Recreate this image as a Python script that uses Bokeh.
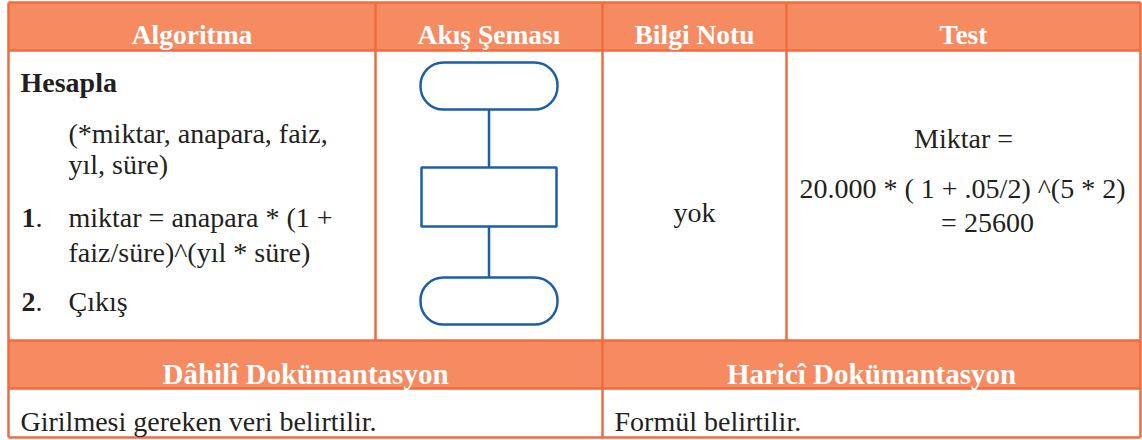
from bokeh.plotting import figure
from bokeh.models import Range1d
from bokeh.core.properties import value
from bokeh.embed import file_html
from bokeh.resources import INLINE

# ---- content ----
headers = ["Algoritma", "Akış Şeması", "Bilgi Notu", "Test"]
doc_headers = ["Dâhilî Dokümantasyon", "Haricî Dokümantasyon"]
doc_texts = ["Girilmesi gereken veri belirtilir.", "Formül belirtilir."]
algo_title = "Hesapla"
algo_params = ["(*miktar, anapara, faiz,", "yıl, süre)"]
step_numbers = ["1", "2"]
step1_lines = ["miktar = anapara * (1 +", "faiz/süre)^(yıl * süre)"]
step2_lines = ["Çıkış"]
info_note = "yok"
test_lines = ["Miktar =", "20.000 * ( 1 + .05/2) ^(5 * 2)", "= 25600"]

# ---- layout (pixel frame of the page) ----
col_edges = [8, 375, 602, 786, 1140]
y_top, y_head, y_body, y_doc, y_bot = 2, 50, 340, 388, 437
doc_split = 602

BORDER = "#F26B3F"
FILL = "#F68B62"
BLUE = "#1B5FAA"
INK = "#231F20"
FONT = value("Liberation Serif")
BODY_SIZE = "28px"

p = figure(width=1142, height=440, x_range=Range1d(0, 1142), y_range=Range1d(440, 0),
           output_backend="svg", toolbar_location=None, min_border=0)
p.axis.visible = False
p.grid.visible = False
p.outline_line_color = None
p.background_fill_color = "white"
p.border_fill_color = "white"

# header bands
p.quad(left=[col_edges[0]] * 2, right=[col_edges[-1]] * 2,
       top=[y_top, y_body], bottom=[y_head, y_doc],
       fill_color=FILL, line_color=None)

# borders
hx0 = [col_edges[0]] * 5
hx1 = [col_edges[-1]] * 5
hy = [y_top, y_head, y_body, y_doc, y_bot]
p.segment(x0=hx0, x1=hx1, y0=hy, y1=hy, line_color=BORDER, line_width=2.5)
vx = [col_edges[0], col_edges[1], col_edges[2], col_edges[3], col_edges[4]]
vy1 = [y_bot, y_body, y_bot, y_body, y_bot]
p.segment(x0=vx, x1=vx, y0=[y_top] * 5, y1=vy1, line_color=BORDER, line_width=2.5)

# flowchart
fx0, fx1, fxc = 420, 557, 488.5
p.segment(x0=[fxc, fxc], x1=[fxc, fxc], y0=[109, 226], y1=[167, 277],
          line_color=BLUE, line_width=2.5)
p.quad(left=[fx0, fx0], right=[fx1, fx1], top=[62, 277], bottom=[109, 324],
       border_radius=23, fill_color="white", line_color=BLUE, line_width=2.5)
p.quad(left=[fx0 + 1], right=[fx1 - 1], top=[167], bottom=[226],
       fill_color="white", line_color=BLUE, line_width=2.5)

hcx = [(col_edges[i] + col_edges[i + 1]) / 2 for i in range(4)]

# ---- regular texts ----
body_lines = algo_params + step1_lines + step2_lines
body_y = [133, 164, 217, 252, 301]
p.text(x=[68] * len(body_lines), y=body_y, text=body_lines, text_font=FONT,
       text_font_size=BODY_SIZE, text_color=INK, text_baseline="alphabetic")
p.text(x=[35, 35], y=[217, 301], text=["."] * 2, text_font=FONT,
       text_font_size=BODY_SIZE, text_color=INK, text_baseline="alphabetic")
p.text(x=[hcx[2]], y=[212], text=[info_note], text_font=FONT, text_font_size=BODY_SIZE,
       text_color=INK, text_align="center", text_baseline="alphabetic")
p.text(x=[963, 962, 987], y=[138, 188, 222], text=test_lines, text_font=FONT,
       text_font_size=BODY_SIZE, text_color=INK, text_align="center",
       text_baseline="alphabetic")
p.text(x=[20, 614], y=[421, 421], text=doc_texts, text_font=FONT,
       text_font_size=BODY_SIZE, text_color=INK, text_baseline="alphabetic")

# ---- bold texts ----
p.text(x=[20], y=[82], text=[algo_title], text_font=FONT, text_font_size="28px",
       text_font_style="bold", text_color=INK, text_baseline="alphabetic")
p.text(x=[21, 21], y=[217, 301], text=step_numbers, text_font=FONT,
       text_font_size=BODY_SIZE, text_font_style="bold", text_color=INK,
       text_baseline="alphabetic")
p.text(x=hcx, y=[34] * 4, text=headers, text_font=FONT, text_font_size="27.5px",
       text_font_style="bold", text_color="white", text_align="center",
       text_baseline="alphabetic")
p.text(x=[(col_edges[0] + doc_split) / 2, (doc_split + col_edges[-1]) / 2], y=[373, 373],
       text=doc_headers, text_font=FONT, text_font_size="29px",
       text_font_style="bold", text_color="white", text_align="center",
       text_baseline="alphabetic")

open("out.html", "w").write(file_html(p, INLINE))
